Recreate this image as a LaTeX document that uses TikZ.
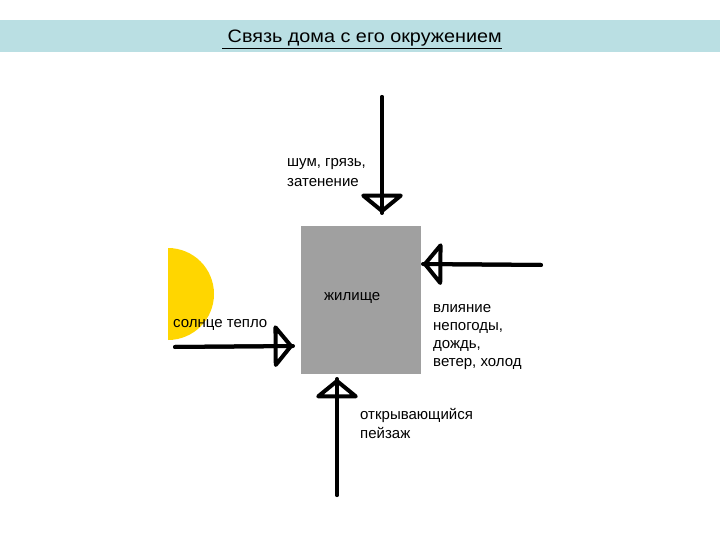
\documentclass[tikz,border=0pt]{standalone}
\usepackage{fontspec}
\setmainfont{Liberation Sans}
\usetikzlibrary{arrows.meta}
\definecolor{bandcyan}{RGB}{186,223,227}
\definecolor{housegray}{RGB}{160,160,160}
\definecolor{sunyellow}{RGB}{255,214,0}
\begin{document}
\begin{tikzpicture}[x=1pt,y=-1pt]
          \tikzset{
            LabelStyle/.style = { anchor=base west, inner sep=0pt, align=left,
              font = \fontsize{15}{20}\selectfont, text = black },
            FlowStyle/.style = { line width=4pt, line cap=round,
              postaction={draw, -{Triangle[open, round, length=20pt, width=48pt, line width=4pt]}} } }
          \useasboundingbox (0,0) rectangle (720,540);
          % title band
          \fill[bandcyan] (0,20) rectangle (720,52);
          \node[anchor=base, inner sep=0pt, xscale=1.1, font=\fontsize{18}{20}\selectfont] (Title) at (362,43) {\underline{\ Связь дома с его окружением}};
          % sun
          \fill[sunyellow] (168,250) -- (168,340) arc[start angle=90, end angle=-90, radius=46] -- cycle;
          \node[fill=housegray, minimum width=120pt, minimum height=148pt, inner sep=0pt] (House) at (361,300) {};
          \node[LabelStyle] (Zhilishche) at (324,300) {жилище};
          \node[LabelStyle] (Shum) at (287,187) {шум, грязь,\\затенение};
          \node[LabelStyle] (Solnce) at (173,327) {солнце тепло};
          \node[LabelStyle, font=\fontsize{15}{18}\selectfont] (Vliyanie) at (433,366) {влияние\\непогоды,\\дождь,\\ветер, холод};
          \node[LabelStyle, font=\fontsize{15}{19}\selectfont] (Peyzazh) at (360,438) {открывающийся\\пейзаж};
          \coordinate (ShumS) at (382,97);   \coordinate (ShumE) at (382,213);
          \coordinate (VlS) at (541,265);    \coordinate (VlE) at (423,264);
          \coordinate (SolS) at (175,347);   \coordinate (SolE) at (293,346);
          \coordinate (PeyS) at (337,495);   \coordinate (PeyE) at (337,379);
          \draw[FlowStyle] (ShumS) -- (ShumE);
          \draw[FlowStyle] (VlS) -- (VlE);
          \draw[FlowStyle] (SolS) -- (SolE);
          \draw[FlowStyle] (PeyS) -- (PeyE);
          % \draw[FlowStyle] (House) -- (Zhilishche);
\end{tikzpicture}
\end{document}
